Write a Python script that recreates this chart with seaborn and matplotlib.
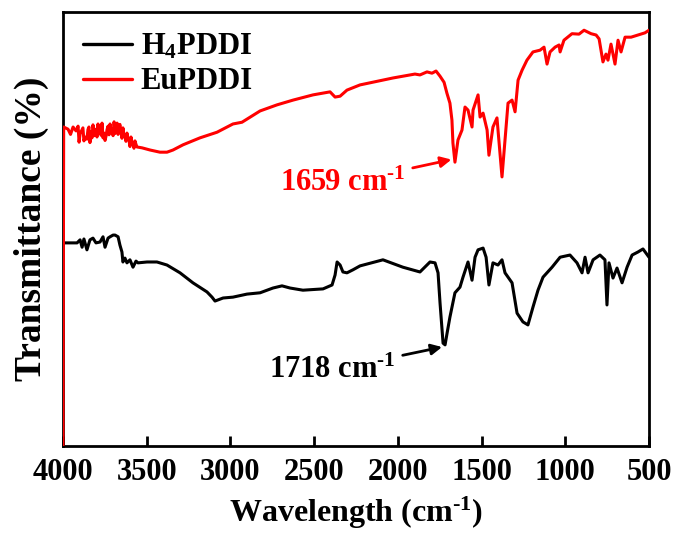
import numpy as np
import pandas as pd
import matplotlib
matplotlib.use("Agg")
import matplotlib.pyplot as plt
import seaborn as sns

# ---- data (wavenumber cm^-1, transmittance in arbitrary %) ----
eu_wn = [4000, 3996, 3970, 3955, 3940, 3922, 3910, 3904, 3898, 3881, 3875, 3869, 3857,
         3851, 3845, 3839, 3833, 3827, 3821, 3812, 3803, 3797, 3791, 3785, 3779, 3773,
         3767, 3761, 3755, 3749, 3743, 3737, 3731, 3725, 3719, 3713, 3707, 3701, 3695,
         3689, 3677, 3671, 3666, 3660, 3654, 3648, 3642, 3636, 3630, 3624, 3618, 3612,
         3606, 3600, 3594, 3588, 3582, 3576, 3570, 3564, 3558, 3528,
         3480, 3421, 3379, 3343,
         3283, 3182, 3080, 2985, 2931, 2823, 2722, 2626, 2507, 2405, 2375, 2345, 2304,
         2226, 2029, 1898, 1868, 1826, 1796, 1772, 1748, 1724, 1707, 1689, 1677, 1671,
         1659, 1641, 1617, 1599, 1581, 1557, 1551, 1521, 1509, 1491, 1467, 1456, 1432,
         1408, 1390, 1378, 1360, 1342, 1318, 1300, 1282, 1258, 1229, 1193, 1151, 1127,
         1109, 1091, 1061, 1037, 1031, 1008, 960, 918, 888, 846, 816, 798, 775, 757,
         745, 727, 703, 685, 667, 643, 607, 566, 524, 500]
eu_t = [0.0, 73.5, 73.0, 71.8, 73.5, 72.6, 73.7, 70.0, 71.9, 73.3, 70.3, 71.2, 70.7,
        72.9, 73.5, 69.9, 72.4, 71.0, 74.0, 71.5, 73.0, 71.2, 74.2, 72.0, 73.5, 71.6,
        74.4, 71.0, 72.1, 70.4, 71.4, 72.9, 73.7, 71.7, 74.2, 72.3, 73.0, 71.5, 74.7,
        72.0, 74.4, 71.8, 73.5, 74.1, 72.6, 70.9, 73.3, 71.5, 71.4, 70.2, 72.1, 71.0,
        70.5, 69.0, 71.2, 70.0, 69.8, 68.6, 70.3, 69.5, 68.9, 68.7,
        68.2, 67.7, 67.7, 68.2,
        69.4, 71.0, 72.3, 74.2, 74.6, 77.2, 78.6, 79.7, 80.9, 81.6, 80.4, 80.6, 82.0,
        83.2, 84.8, 85.7, 85.5, 86.2, 85.9, 86.4, 85.2, 83.8, 81.3, 79.0, 75.1, 69.8,
        65.4, 70.5, 72.8, 78.1, 77.4, 73.5, 77.4, 80.9, 75.8, 76.7, 72.8, 67.0, 73.5,
        75.6, 67.5, 62.0, 70.5, 79.0, 79.7, 77.0, 84.3, 86.6, 88.9, 90.8, 91.2, 91.9,
        88.0, 90.8, 91.9, 92.4, 90.8, 93.5, 95.0, 94.9, 95.8, 95.0, 94.7, 93.8, 88.5,
        90.3, 88.9, 92.6, 88.0, 93.5, 90.8, 94.2, 94.2, 94.7, 95.2, 95.8]

h4_wn = [4000, 3958, 3916, 3898, 3886, 3875, 3857, 3839, 3821, 3803, 3779, 3761, 3749,
         3731, 3719, 3701, 3689, 3671, 3660, 3648, 3642, 3630, 3618, 3600, 3582, 3564,
         3552, 3498, 3439, 3379, 3301, 3224, 3140, 3110, 3092, 3044, 2985, 2901, 2823,
         2746, 2692, 2644, 2567, 2447, 2393, 2375, 2363, 2345, 2328, 2304, 2268, 2226,
         2089, 1970, 1868, 1808, 1778, 1760, 1748, 1730, 1718, 1706, 1689, 1659, 1629,
         1611, 1581, 1557, 1539, 1521, 1491, 1473, 1456, 1432, 1402, 1378, 1360, 1318,
         1288, 1253, 1223, 1193, 1163, 1133, 1079, 1031, 972, 930, 900, 882, 864, 834,
         793, 763, 751, 739, 715, 691, 661, 631, 601, 566, 536, 500]
h4_t = [46.8, 46.8, 46.8, 47.5, 45.8, 47.7, 45.2, 47.5, 47.9, 46.8, 47.0, 48.2, 45.8,
        47.9, 48.2, 48.6, 48.6, 48.2, 46.3, 44.7, 42.4, 43.3, 42.2, 42.9, 41.2, 42.6,
        42.2, 42.4, 42.4, 41.7, 39.9, 37.6, 35.5, 34.3, 33.4, 34.1, 34.3, 35.0, 35.3,
        36.4, 36.9, 36.4, 35.9, 36.2, 37.1, 39.4, 42.4, 41.7, 40.1, 39.9, 40.6, 41.5,
        42.9, 41.2, 40.1, 42.4, 42.2, 39.9, 32.9, 23.7, 23.3, 26.0, 29.7, 35.3, 36.6,
        38.9, 42.4, 38.2, 43.5, 45.2, 45.6, 43.5, 37.1, 42.2, 41.7, 42.9, 39.9, 37.6,
        30.6, 28.6, 27.9, 32.0, 35.9, 38.9, 41.2, 43.5, 44.0, 42.2, 39.9, 43.5, 39.9,
        42.9, 44.0, 42.9, 32.5, 42.2, 38.7, 41.0, 37.6, 41.2, 44.0, 44.7, 45.4, 43.5]

series = ["H$_4$PDDI", "EuPDDI"]
colors = {"H$_4$PDDI": "#000000", "EuPDDI": "#ff0000"}
xticks = [4000, 3500, 3000, 2500, 2000, 1500, 1000, 500]

df = pd.concat([
    pd.DataFrame({"wn": h4_wn, "T": h4_t, "sample": series[0]}),
    pd.DataFrame({"wn": eu_wn, "T": eu_t, "sample": series[1]}),
], ignore_index=True)

sns.set_style("ticks")
plt.rcParams["font.family"] = ["Liberation Serif", "DejaVu Serif"]
plt.rcParams["font.weight"] = "bold"
plt.rcParams["text.color"] = "black"
plt.rcParams["axes.labelcolor"] = "black"
plt.rcParams["xtick.color"] = "black"
plt.rcParams["ytick.color"] = "black"
plt.rcParams["mathtext.fontset"] = "custom"
plt.rcParams["mathtext.rm"] = "Liberation Serif:bold"
plt.rcParams["mathtext.bf"] = "Liberation Serif:bold"
plt.rcParams["mathtext.it"] = "Liberation Serif:bold:italic"

fig = plt.figure(figsize=(6.78, 5.33), dpi=100)
ax = fig.add_axes([63 / 678, 1 - 446 / 533, (649 - 63) / 678, (446 - 12) / 533])

sns.lineplot(data=df, x="wn", y="T", hue="sample", hue_order=series,
             palette=colors, estimator=None, sort=False, linewidth=2.2, ax=ax)
for ln in ax.get_lines():
    ln.set_zorder(3)

ax.set_xlim(4000, 500)
ax.set_ylim(0, 100)
ax.set_xticks(xticks)
ax.set_xticklabels([str(t) for t in xticks], fontsize=22, fontweight="bold")
ax.set_yticks([])
ax.tick_params(axis="x", direction="in", length=7, width=2, pad=9, colors="black")
for s in ax.spines.values():
    s.set_linewidth(2)
    s.set_color("black")

SUP = "$^{\\text{-1}}$"
ax.set_xlabel("Wavelength (cm" + SUP + ")", fontsize=23, fontweight="bold", labelpad=5)
ax.set_ylabel("Transmittance (%)", fontsize=27, fontweight="bold", labelpad=10)

leg = ax.legend(loc="upper left", frameon=False, fontsize=22, handlelength=1.6,
                handletextpad=0.3, borderaxespad=0.25, labelspacing=0.2)
for line in leg.get_lines():
    line.set_linewidth(2.4)

ax.annotate("1659 cm" + SUP, xy=(1680, 66.0), xytext=(1955, 60.6),
            color="red", fontsize=22, fontweight="bold", ha="right", va="center",
            arrowprops=dict(arrowstyle="-|>", color="red", lw=2, mutation_scale=16,
                            shrinkA=3, shrinkB=0))
ax.annotate("1718 cm" + SUP, xy=(1736, 22.8), xytext=(2015, 17.5),
            color="black", fontsize=22, fontweight="bold", ha="right", va="center",
            arrowprops=dict(arrowstyle="-|>", color="black", lw=2, mutation_scale=16,
                            shrinkA=3, shrinkB=0))

fig.savefig("out.png", dpi=100)
